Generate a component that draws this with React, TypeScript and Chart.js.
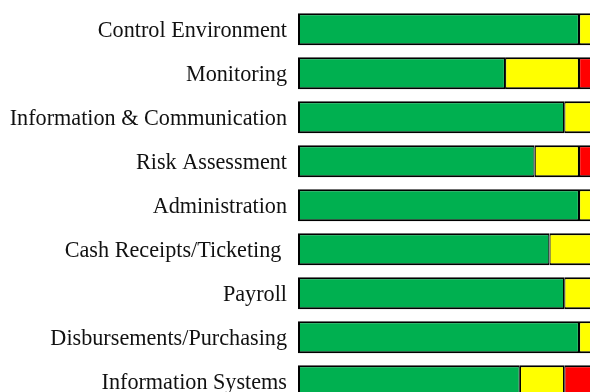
import React, { useEffect, useRef } from "react";
import { Chart, registerables } from "chart.js";

Chart.register(...registerables);

const categories = [
  "Control Environment",
  "Monitoring",
  "Information & Communication",
  "Risk Assessment",
  "Administration",
  "Cash Receipts/Ticketing ",
  "Payroll",
  "Disbursements/Purchasing",
  "Information Systems",
];
const greenValues = [19, 14, 18, 16, 19, 17, 18, 19, 15];
const yellowValues = [1, 5, 2, 3, 1, 3, 2, 1, 3];
const redValues = [0, 1, 0, 1, 0, 0, 0, 0, 2];

const nz = (a: number[]) => a.map((v) => (v === 0 ? null : v));

export default function App() {
  const ref = useRef<HTMLCanvasElement | null>(null);
  useEffect(() => {
    if (!ref.current) return;
    const common = {
      borderColor: "#000000",
      borderSkipped: false as const,
      inflateAmount: 0,
      categoryPercentage: 1,
      barPercentage: 0.725,
    };
    const chart = new Chart(ref.current, {
      type: "bar",
      data: {
        labels: categories,
        datasets: [
          {
            label: "Green",
            data: nz(greenValues),
            backgroundColor: "#00B050",
            borderWidth: { top: 2, bottom: 2, left: 2, right: 1.2 },
            ...common,
          },
          {
            label: "Yellow",
            data: nz(yellowValues),
            backgroundColor: "#FFFF00",
            borderWidth: { top: 2, bottom: 2, left: 1.2, right: 1.2 },
            ...common,
          },
          {
            label: "Red",
            data: nz(redValues),
            backgroundColor: "#FF0000",
            borderWidth: { top: 2, bottom: 2, left: 1.2, right: 2 },
            ...common,
          },
        ],
      },
      options: {
        indexAxis: "y",
        animation: false,
        responsive: false,
        maintainAspectRatio: false,
        layout: { padding: { left: 0, right: 6.2, top: 7.2, bottom: 6.8 } },
        plugins: { legend: { display: false }, tooltip: { enabled: false } },
        scales: {
          x: {
            stacked: true,
            min: 0,
            max: 20,
            display: false,
          },
          y: {
            stacked: true,
            grid: { display: false, drawTicks: false },
            border: { display: false },
            ticks: {
              color: "#111111",
              padding: 11,
              labelOffset: 1.5,
              font: { family: "'Liberation Serif', serif", size: 22.2 },
            },
            afterFit: (scale: any) => {
              scale.width = 298;
              scale.paddingTop = 0;
              scale.paddingBottom = 0;
            },
          },
        },
      },
    });
    return () => chart.destroy();
  }, []);
  return (
    <div
      style={{
        position: "fixed",
        left: 0,
        top: 0,
        width: 590,
        height: 392,
        overflow: "hidden",
        background: "#ffffff",
      }}
    >
      <canvas ref={ref} width={600} height={410} style={{ display: "block" }} />
    </div>
  );
}
